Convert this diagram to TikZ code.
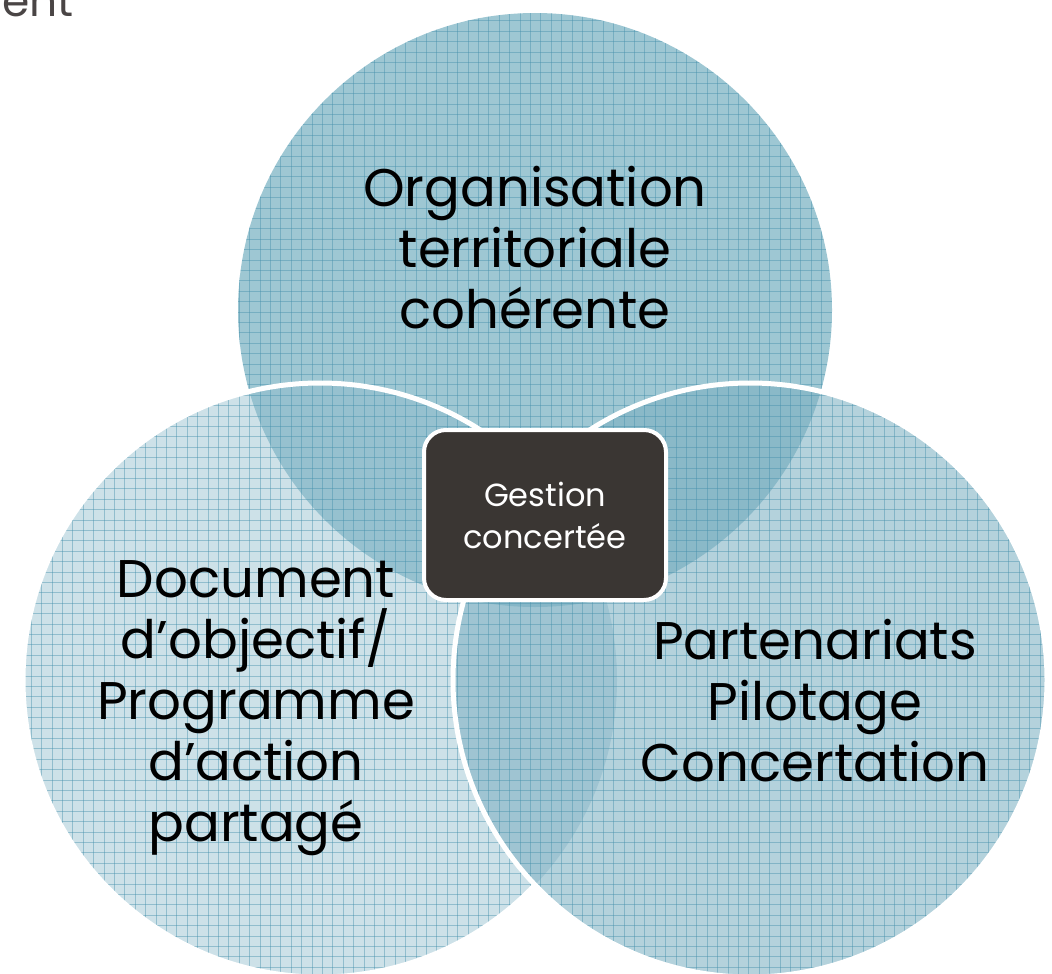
\documentclass[tikz,border=0pt]{standalone}
\usepackage{fontspec}
\setmainfont{Poppins}
\begin{document}
\begin{tikzpicture}[x=1pt,y=-1pt]
\definecolor{topc}{RGB}{158,199,211}
\definecolor{leftc}{RGB}{140,186,202}
\definecolor{rightc}{RGB}{123,175,193}
\definecolor{gridc}{RGB}{70,145,172}
\definecolor{boxc}{RGB}{58,54,51}
\definecolor{entc}{RGB}{74,69,69}
\tikzset{
  bigtext/.style={font=\fontsize{53}{61}\selectfont, align=center, text=black, inner sep=0pt},
  boxtext/.style={font=\fontsize{32}{42}\selectfont, align=center, text=white, draw=white,
    line width=4pt, fill=boxc, rounded corners=22pt, minimum width=242pt, minimum height=170pt},
  ring/.style={draw=white, line width=5pt},
  gridline/.style={gridc, line width=0.9pt, opacity=0.45}
}
\useasboundingbox (0,0) rectangle (1052,974);
\clip (0,0) rectangle (1052,974);
\coordinate (T) at (535,310);
\coordinate (L) at (320,680);
\coordinate (R) at (750,680);
\fill[topc] (T) circle (297);
\fill[leftc, fill opacity=0.43] (L) circle (297);
\fill[rightc, fill opacity=0.57] (R) circle (297);
\begin{scope}
  \clip (T) circle (297) (L) circle (297) (R) circle (297);
  \foreach \i in {0,...,101} {
    \draw[gridline] (\i*10.4,0) -- (\i*10.4,974);
  }
  \foreach \j in {0,...,94} {
    \draw[gridline] (0,\j*10.4) -- (1052,\j*10.4);
  }
\end{scope}
\begin{scope}[even odd rule]
  \clip (-10,-10) rectangle (1100,1000) (R) circle (297);
  \draw[ring] (L) circle (297);
\end{scope}
\draw[ring] (R) circle (297);
\node[boxtext] (box) at (545,515) {Gestion\\concertée};
\node[bigtext] (top) at (535,248) {Organisation\\territoriale\\cohérente};
\node[bigtext] (left) at (256,708) {Document\\d’objectif/\\Programme\\d’action\\partagé};
\node[bigtext] (right) at (815,701) {Partenariats\\Pilotage\\Concertation};
\node[font=\fontsize{44}{48}\selectfont, text=entc, anchor=base west, inner sep=0pt] (ent) at (2,17) {ent};
\end{tikzpicture}
\end{document}
